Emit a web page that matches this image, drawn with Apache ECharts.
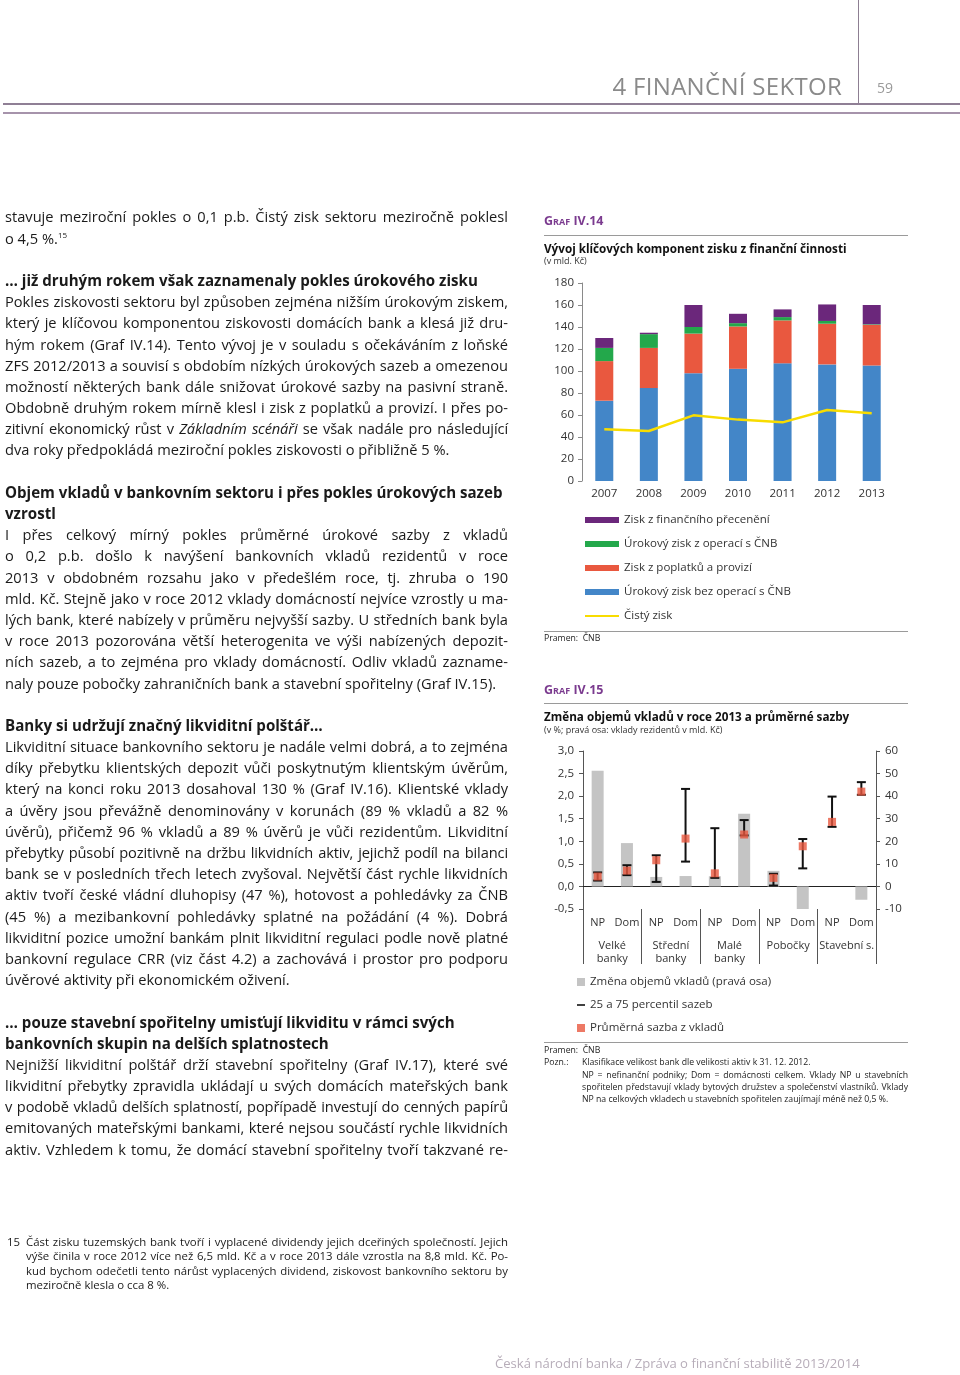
<!DOCTYPE html>
<html><head><meta charset="utf-8">
<script src="https://cdn.jsdelivr.net/npm/echarts@6/dist/echarts.min.js"></script>
<style>
html,body{margin:0;padding:0;background:#fff;}
body{width:960px;height:1375px;position:relative;overflow:hidden;font-family:"Open Sans","Noto Sans",sans-serif;color:#1a1a1a;}
#chart{position:absolute;left:0;top:0;width:960px;height:1375px;z-index:0;}
.t{position:absolute;z-index:1;white-space:nowrap;}
.col{position:absolute;z-index:1;left:5px;top:206.4px;width:503px;font-size:14.65px;line-height:21.2px;}
.col div{height:21.2px;white-space:nowrap;}
.j{text-align:justify;text-align-last:justify;}
.b{font-weight:bold;font-size:15.1px;}
.tight{letter-spacing:-0.12px;}
sup{font-size:8px;vertical-align:top;line-height:14px;}
.hr{position:absolute;z-index:1;height:1px;background:#9a9a9a;}
.graf{font-weight:bold;color:#7b3b8f;font-variant:small-caps;font-size:12.5px;line-height:16px;}
.ctitle{font-weight:bold;font-size:11.7px;line-height:16px;color:#111;}
.csub{font-size:9px;line-height:12px;color:#333;}
.note{font-size:8.7px;line-height:12.3px;color:#222;}
.fn{position:absolute;z-index:1;left:26px;top:1234.8px;width:482px;font-size:11.4px;line-height:14.4px;}
.fn div{height:14.4px;white-space:nowrap;}
</style></head>
<body>
<div id="chart"></div>

<!-- header -->
<div class="t" style="left:560px;top:70px;width:282px;text-align:right;font-size:24px;line-height:32px;color:#8a8a8a;letter-spacing:0.3px;">4 FINANČNÍ SEKTOR</div>
<div style="position:absolute;left:857.5px;top:0;width:1.5px;height:104px;background:#8d7f92;"></div>
<div class="t" style="left:877px;top:79px;font-size:14px;line-height:18px;color:#9a9a9a;">59</div>
<div style="position:absolute;left:3px;top:103px;width:957px;height:2px;background:#8f7f95;"></div>
<div style="position:absolute;left:3px;top:112px;width:957px;height:1.5px;background:#a693ab;"></div>

<!-- left column -->
<div class="col">
<div class="j">stavuje meziroční pokles o 0,1 p.b. Čistý zisk sektoru meziročně poklesl</div>
<div>o 4,5 %.<sup>15</sup></div>
<div></div>
<div class="b">… již druhým rokem však zaznamenaly pokles úrokového zisku</div>
<div class="j">Pokles ziskovosti sektoru byl způsoben zejména nižším úrokovým ziskem,</div>
<div class="j">který je klíčovou komponentou ziskovosti domácích bank a klesá již dru-</div>
<div class="j">hým rokem (Graf IV.14). Tento vývoj je v souladu s očekáváním z loňské</div>
<div class="j">ZFS 2012/2013 a souvisí s obdobím nízkých úrokových sazeb a omezenou</div>
<div class="j">možností některých bank dále snižovat úrokové sazby na pasivní straně.</div>
<div class="j">Obdobně druhým rokem mírně klesl i zisk z poplatků a provizí. I přes po-</div>
<div class="j tight">zitivní ekonomický růst v <i>Základním scénáři</i> se však nadále pro následující</div>
<div>dva roky předpokládá meziroční pokles ziskovosti o přibližně 5 %.</div>
<div></div>
<div class="b">Objem vkladů v bankovním sektoru i přes pokles úrokových sazeb</div>
<div class="b">vzrostl</div>
<div class="j">I přes celkový mírný pokles průměrné úrokové sazby z vkladů</div>
<div class="j">o 0,2 p.b. došlo k navýšení bankovních vkladů rezidentů v roce</div>
<div class="j">2013 v obdobném rozsahu jako v předešlém roce, tj. zhruba o 190</div>
<div class="j">mld. Kč. Stejně jako v roce 2012 vklady domácností nejvíce vzrostly u ma-</div>
<div class="j">lých bank, které nabízely v průměru nejvyšší sazby. U středních bank byla</div>
<div class="j">v roce 2013 pozorována větší heterogenita ve výši nabízených depozit-</div>
<div class="j">ních sazeb, a to zejména pro vklady domácností. Odliv vkladů zazname-</div>
<div>naly pouze pobočky zahraničních bank a stavební spořitelny (Graf IV.15).</div>
<div></div>
<div class="b">Banky si udržují značný likviditní polštář…</div>
<div class="j">Likviditní situace bankovního sektoru je nadále velmi dobrá, a to zejména</div>
<div class="j">díky přebytku klientských depozit vůči poskytnutým klientským úvěrům,</div>
<div class="j">který na konci roku 2013 dosahoval 130 % (Graf IV.16). Klientské vklady</div>
<div class="j">a úvěry jsou převážně denominovány v korunách (89 % vkladů a 82 %</div>
<div class="j">úvěrů), přičemž 96 % vkladů a 89 % úvěrů je vůči rezidentům. Likviditní</div>
<div class="j tight">přebytky působí pozitivně na držbu likvidních aktiv, jejichž podíl na bilanci</div>
<div class="j">bank se v posledních třech letech zvyšoval. Největší část rychle likvidních</div>
<div class="j">aktiv tvoří české vládní dluhopisy (47 %), hotovost a pohledávky za ČNB</div>
<div class="j">(45 %) a mezibankovní pohledávky splatné na požádání (4 %). Dobrá</div>
<div class="j tight">likviditní pozice umožní bankám plnit likviditní regulaci podle nově platné</div>
<div class="j">bankovní regulace CRR (viz část 4.2) a zachovává i prostor pro podporu</div>
<div>úvěrové aktivity při ekonomickém oživení.</div>
<div></div>
<div class="b">… pouze stavební spořitelny umisťují likviditu v rámci svých</div>
<div class="b">bankovních skupin na delších splatnostech</div>
<div class="j">Nejnižší likviditní polštář drží stavební spořitelny (Graf IV.17), které své</div>
<div class="j">likviditní přebytky zpravidla ukládají u svých domácích mateřských bank</div>
<div class="j tight">v podobě vkladů delších splatností, popřípadě investují do cenných papírů</div>
<div class="j">emitovaných mateřskými bankami, které nejsou součástí rychle likvidních</div>
<div class="j">aktiv. Vzhledem k tomu, že domácí stavební spořitelny tvoří takzvané re-</div>
</div>

<!-- footnote -->
<div class="t" style="left:7px;top:1234.8px;font-size:11.4px;line-height:14.4px;">15</div>
<div class="fn">
<div class="j">Část zisku tuzemských bank tvoří i vyplacené dividendy jejich dceřiných společností. Jejich</div>
<div class="j">výše činila v roce 2012 více než 6,5 mld. Kč a v roce 2013 dále vzrostla na 8,8 mld. Kč. Po-</div>
<div class="j">kud bychom odečetli tento nárůst vyplacených dividend, ziskovost bankovního sektoru by</div>
<div>meziročně klesla o cca 8 %.</div>
</div>

<!-- footer -->
<div class="t" style="left:495px;top:1353px;font-size:13.1px;line-height:20px;color:#b7adb9;">Česká národní banka / Zpráva o finanční stabilitě 2013/2014</div>

<!-- right column: chart IV.14 texts -->
<div class="t graf" style="left:544px;top:213px;">Graf IV.14</div>
<div class="hr" style="left:544px;top:234.5px;width:364px;height:1.5px;"></div>
<div class="t ctitle" style="left:544px;top:240px;">Vývoj klíčových komponent zisku z finanční činnosti</div>
<div class="t csub" style="left:544px;top:255px;">(v mld. Kč)</div>
<div class="hr" style="left:544px;top:630.5px;width:364px;"></div>
<div class="t note" style="left:544px;top:632px;">Pramen:&nbsp; ČNB</div>

<!-- right column: chart IV.15 texts -->
<div class="t graf" style="left:544px;top:682px;">Graf IV.15</div>
<div class="hr" style="left:544px;top:702.5px;width:364px;height:1.5px;"></div>
<div class="t ctitle" style="left:544px;top:708px;">Změna objemů vkladů v roce 2013 a průměrné sazby</div>
<div class="t csub" style="left:544px;top:724px;">(v %; pravá osa: vklady rezidentů v mld. Kč)</div>
<div class="hr" style="left:544px;top:1041.5px;width:364px;"></div>
<div class="t note" style="left:544px;top:1044px;">Pramen:&nbsp; ČNB</div>
<div class="t note" style="left:544px;top:1056px;">Pozn.:</div>
<div class="t note" style="left:582px;top:1056px;">Klasifikace velikost bank dle velikosti aktiv k 31. 12. 2012.</div>
<div class="t note" style="left:582px;top:1068.5px;width:326px;" ><div class="j">NP = nefinanční podniky; Dom = domácnosti celkem. Vklady NP u stavebních</div></div>
<div class="t note" style="left:582px;top:1080.8px;width:326px;" ><div class="j">spořitelen představují vklady bytových družstev a společenství vlastníků. Vklady</div></div>
<div class="t note" style="left:582px;top:1093.1px;">NP na celkových vkladech u stavebních spořitelen zaujímají méně než 0,5 %.</div>

<script>
// ---- Graf IV.14 data (mld. Kč) ----
const years = ['2007', '2008', '2009', '2010', '2011', '2012', '2013'];
const interestExCnb = [73, 84.5, 98, 102, 107, 106, 105];
const feesCommissions = [36, 36.5, 36, 38.5, 39, 37, 37];
const interestCnb = [12, 12.5, 6, 3, 3, 2.5, 0.5];
const revaluation = [9, 1.3, 20, 8.5, 7, 15, 17.5];
const netProfit = [47, 45.5, 59.7, 55.8, 53.3, 64.5, 61.5];

// ---- Graf IV.15 data ----
const segments = ['NP', 'Dom', 'NP', 'Dom', 'NP', 'Dom', 'NP', 'Dom', 'NP', 'Dom'];
const bankGroups = ['Velké\nbanky', 'Střední\nbanky', 'Malé\nbanky', 'Pobočky', 'Stavební s.'];
const depositChange = [51.2, 19.2, 4.2, 4.6, 4.5, 32.2, 6.9, -10.6, 0, -5.9]; // mld. Kč, right axis
const avgRate = [0.22, 0.35, 0.58, 1.06, 0.29, 1.15, 0.19, 0.89, 1.43, 2.10]; // %
const rateP25 = [0.13, 0.25, 0.10, 0.55, 0.19, 1.13, 0.02, 0.40, 1.32, 2.03];
const rateP75 = [0.31, 0.47, 0.69, 2.16, 1.29, 1.47, 0.28, 1.05, 1.99, 2.31];

const C = {
  blue: '#4386c8', orange: '#e9583f', green: '#23a84b', purple: '#6b277b', yellow: '#f8dc00',
  grey: '#c4c4c4', marker: '#e9583f', axis: '#8a8a8a', text: '#333'
};

const errData = segments.map((s, i) => [i, rateP25[i], rateP75[i]]);

const chart = echarts.init(document.getElementById('chart'), null, {renderer: 'canvas'});
const font = '"Open Sans","Noto Sans",sans-serif';

chart.setOption({
  animation: false,
  textStyle: {fontFamily: font},
  grid: [
    {left: 582, top: 283, width: 312, height: 198},
    {left: 583, top: 751, width: 293, height: 158}
  ],
  legend: [
    {
      orient: 'vertical', left: 580, top: 508, itemWidth: 34, itemHeight: 6, itemGap: 10,
      textStyle: {fontSize: 11.5, color: C.text, lineHeight: 14},
      data: [
        {name: 'Zisk z finančního přecenění', icon: 'rect'},
        {name: 'Úrokový zisk z operací s ČNB', icon: 'rect'},
        {name: 'Zisk z poplatků a provizí', icon: 'rect'},
        {name: 'Úrokový zisk bez operací s ČNB', icon: 'rect'},
        {name: 'Čistý zisk', icon: 'path://M0,0 L34,0 L34,2 L0,2 Z'}
      ]
    },
    {
      orient: 'vertical', left: 572, top: 970, itemWidth: 8, itemHeight: 8, itemGap: 9,
      textStyle: {fontSize: 11.5, color: C.text, lineHeight: 14},
      data: [
        {name: 'Změna objemů vkladů (pravá osa)', icon: 'rect'},
        {name: '25 a 75 percentil sazeb', icon: 'path://M0,0 L10,0 L10,2 L0,2 Z'},
        {name: 'Průměrná sazba z vkladů', icon: 'rect'}
      ]
    }
  ],
  xAxis: [
    {
      gridIndex: 0, type: 'category', data: years,
      axisLine: {show: false}, axisTick: {show: false},
      axisLabel: {fontSize: 11.5, color: C.text, margin: 7}
    },
    {
      gridIndex: 1, type: 'category', data: segments,
      axisLine: {show: true, onZero: true, lineStyle: {color: '#222', width: 1.2}},
      axisTick: {show: false},
      axisLabel: {fontSize: 11, color: C.text, margin: 8, interval: 0}
    },
    {
      gridIndex: 1, type: 'category', data: bankGroups, position: 'bottom',
      axisLine: {show: false, onZero: false},
      axisTick: {show: true, length: 55, interval: 0, lineStyle: {color: '#555', width: 1}},
      axisLabel: {fontSize: 11, color: C.text, margin: 30, lineHeight: 13, interval: 0}
    }
  ],
  yAxis: [
    {
      gridIndex: 0, type: 'value', min: 0, max: 180, interval: 20,
      axisLine: {show: true, lineStyle: {color: C.axis}},
      axisTick: {show: true, length: 4, lineStyle: {color: C.axis}},
      splitLine: {show: false},
      axisLabel: {fontSize: 11.5, color: C.text, margin: 8}
    },
    {
      gridIndex: 1, type: 'value', min: -0.5, max: 3, interval: 0.5, position: 'left',
      axisLine: {show: true, onZero: false, lineStyle: {color: '#555'}},
      axisTick: {show: true, length: 4, lineStyle: {color: '#555'}},
      splitLine: {show: false},
      axisLabel: {fontSize: 11.5, color: C.text, margin: 9,
        formatter: v => v.toFixed(1).replace('.', ',')}
    },
    {
      gridIndex: 1, type: 'value', min: -10, max: 60, interval: 10, position: 'right',
      axisLine: {show: true, onZero: false, lineStyle: {color: '#555'}},
      axisTick: {show: true, length: 4, lineStyle: {color: '#555'}},
      splitLine: {show: false},
      axisLabel: {fontSize: 11.5, color: C.text, margin: 9}
    }
  ],
  series: [
    {name: 'Úrokový zisk bez operací s ČNB', type: 'bar', stack: 'z', xAxisIndex: 0, yAxisIndex: 0,
     barWidth: 18, data: interestExCnb, itemStyle: {color: C.blue}},
    {name: 'Zisk z poplatků a provizí', type: 'bar', stack: 'z', xAxisIndex: 0, yAxisIndex: 0,
     barWidth: 18, data: feesCommissions, itemStyle: {color: C.orange}},
    {name: 'Úrokový zisk z operací s ČNB', type: 'bar', stack: 'z', xAxisIndex: 0, yAxisIndex: 0,
     barWidth: 18, data: interestCnb, itemStyle: {color: C.green}},
    {name: 'Zisk z finančního přecenění', type: 'bar', stack: 'z', xAxisIndex: 0, yAxisIndex: 0,
     barWidth: 18, data: revaluation, itemStyle: {color: C.purple}},
    {name: 'Čistý zisk', type: 'line', xAxisIndex: 0, yAxisIndex: 0, data: netProfit,
     symbol: 'none', lineStyle: {color: C.yellow, width: 2.5}, itemStyle: {color: C.yellow}, z: 5},

    {name: 'Změna objemů vkladů (pravá osa)', type: 'bar', xAxisIndex: 1, yAxisIndex: 2,
     barWidth: 12, data: depositChange, itemStyle: {color: C.grey}},
    {name: '25 a 75 percentil sazeb', type: 'custom', xAxisIndex: 1, yAxisIndex: 1,
     data: errData, encode: {x: 0, y: [1, 2]}, itemStyle: {color: '#111'}, z: 4,
     renderItem: (params, api) => {
       const x = api.value(0);
       const lo = api.coord([x, api.value(1)]);
       const hi = api.coord([x, api.value(2)]);
       const h = 4.5;
       const st = {stroke: '#111', lineWidth: 2};
       return {type: 'group', children: [
         {type: 'line', shape: {x1: lo[0], y1: lo[1], x2: hi[0], y2: hi[1]}, style: st},
         {type: 'line', shape: {x1: lo[0] - h, y1: lo[1], x2: lo[0] + h, y2: lo[1]}, style: st},
         {type: 'line', shape: {x1: hi[0] - h, y1: hi[1], x2: hi[0] + h, y2: hi[1]}, style: st}
       ]};
     }},
    {name: 'Průměrná sazba z vkladů', type: 'scatter', xAxisIndex: 1, yAxisIndex: 1,
     data: avgRate, symbol: 'rect', symbolSize: 8, itemStyle: {color: C.marker}, z: 6}
  ]
});
</script>
</body></html>
